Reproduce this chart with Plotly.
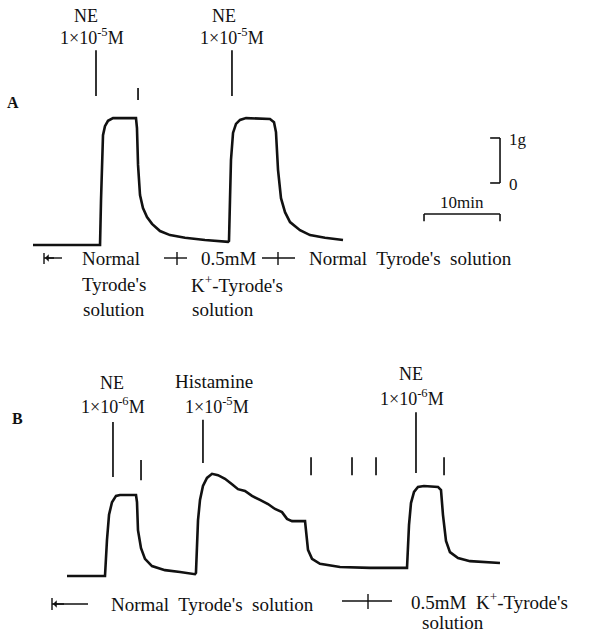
import plotly.graph_objects as go

# ---------------- data (time in min, tension in g above resting baseline) -------------
a_time = [0, 8.82, 8.95, 9.08, 9.21, 9.47, 9.87, 10.53, 13.55, 13.68, 13.82, 14.08, 14.47,
          15.0, 15.66, 16.71, 18.03, 20.0, 22.63, 25.66, 25.79, 25.92, 26.05, 26.32, 26.71,
          27.24, 28.03, 31.18, 31.71, 31.97, 32.24, 32.63, 33.16, 33.82, 35.13, 36.45,
          38.42, 40.79]
a_tension = [0, 0, 1.0, 2.11, 2.44, 2.64, 2.76, 2.82, 2.82, 2.6, 1.78, 1.11, 0.82,
             0.62, 0.47, 0.31, 0.22, 0.16, 0.11, 0.07, 0.09, 1.0, 1.89, 2.49, 2.69,
             2.78, 2.82, 2.8, 2.73, 2.51, 1.67, 1.04, 0.73, 0.51, 0.33, 0.22,
             0.16, 0.11]

b_time = [0, 5.0, 5.26, 5.53, 5.92, 6.45, 6.97, 9.08, 9.21, 9.34, 9.74, 10.26, 11.18,
          12.89, 14.87, 16.84, 16.97, 17.24, 17.5, 17.89, 18.42, 19.08, 19.87, 20.79,
          21.71, 22.5, 23.42, 24.34, 25.39, 26.45, 27.37, 28.29, 28.95, 29.61, 31.32,
          31.45, 31.71, 32.24, 33.29, 35.92, 39.87, 44.74, 45.0, 45.26, 45.66, 46.18,
          46.97, 48.82, 49.21, 49.47, 49.87, 50.39, 51.45, 53.03, 56.97]
b_tension = [0, 0, 0.8, 1.36, 1.64, 1.78, 1.8, 1.8, 1.64, 1.02, 0.62, 0.38, 0.22,
             0.13, 0.09, 0.04, 0.07, 1.24, 1.69, 2.0, 2.18, 2.27, 2.24, 2.16,
             2.04, 1.93, 1.89, 1.78, 1.69, 1.6, 1.49, 1.42, 1.27, 1.22, 1.22,
             1.02, 0.58, 0.38, 0.27, 0.2, 0.18, 0.18, 1.13, 1.62, 1.87, 1.98,
             2.0, 1.98, 1.91, 1.36, 0.78, 0.53, 0.4, 0.33, 0.29]

# drug-addition / washout event times (min)
a_ne_times = [8.29, 26.18]
a_wash_times = [13.82]
b_ne_times = [6.05, 45.92]
b_hist_times = [17.89]
b_wash_times = [9.74, 32.11, 37.5, 40.66, 49.61]

# calibration bar
scale_tension_g = 1
scale_time_min = 10

# ---------------- figure ----------------
W, H = 593, 634
FONT = "Liberation Serif"
BLACK = "#111111"


def P(x, y):
    return dict(x=x / W, y=1 - y / H, xref="paper", yref="paper")


fig = go.Figure()
fig.add_trace(go.Scatter(x=a_time, y=a_tension, mode="lines",
                         line=dict(color=BLACK, width=2.6), xaxis="x", yaxis="y",
                         hoverinfo="skip"))
fig.add_trace(go.Scatter(x=b_time, y=b_tension, mode="lines",
                         line=dict(color=BLACK, width=2.6), xaxis="x2", yaxis="y2",
                         hoverinfo="skip"))

shapes = []


def vline(t, y0, y1, xr, yr, w=1.7):
    shapes.append(dict(type="line", x0=t, x1=t, y0=y0, y1=y1, xref=xr, yref=yr,
                       line=dict(color=BLACK, width=w)))


for t in a_ne_times:
    vline(t, 3.31, 4.33, "x", "y")
for t in a_wash_times:
    vline(t, 3.22, 3.49, "x", "y")
vline(b_ne_times[0], 2.2, 3.42, "x2", "y2")
vline(b_ne_times[1], 2.29, 3.64, "x2", "y2")
for t in b_hist_times:
    vline(t, 2.51, 3.47, "x2", "y2")
vline(b_wash_times[0], 2.13, 2.58, "x2", "y2")
for t in b_wash_times[1:]:
    vline(t, 2.24, 2.64, "x2", "y2")

# calibration bars (panel A coordinates)
sx, sy = 61.45, 1.378
shapes += [
    dict(type="line", x0=sx, x1=sx, y0=sy, y1=sy + scale_tension_g, xref="x", yref="y",
         line=dict(color=BLACK, width=1.6)),
    dict(type="line", x0=sx - 1.3, x1=sx, y0=sy, y1=sy, xref="x", yref="y",
         line=dict(color=BLACK, width=1.6)),
    dict(type="line", x0=sx - 1.3, x1=sx, y0=sy + scale_tension_g, y1=sy + scale_tension_g,
         xref="x", yref="y", line=dict(color=BLACK, width=1.6)),
]
hy = 0.689
shapes += [
    dict(type="line", x0=sx - scale_time_min, x1=sx, y0=hy, y1=hy, xref="x", yref="y",
         line=dict(color=BLACK, width=1.6)),
    dict(type="line", x0=sx - scale_time_min, x1=sx - scale_time_min, y0=hy, y1=hy - 0.16,
         xref="x", yref="y", line=dict(color=BLACK, width=1.6)),
    dict(type="line", x0=sx, x1=sx, y0=hy, y1=hy - 0.16, xref="x", yref="y",
         line=dict(color=BLACK, width=1.6)),
]


def pline(x0, y0, x1, y1, w=1.4):
    shapes.append(dict(type="line", x0=x0 / W, x1=x1 / W, y0=1 - y0 / H, y1=1 - y1 / H,
                       xref="paper", yref="paper", line=dict(color=BLACK, width=w)))


# solution change markers (panel A)
pline(44, 253, 44, 264)
pline(44, 258, 62, 258)
pline(164, 258, 187, 258)
pline(177, 252, 177, 265)
pline(262, 258, 295, 258)
pline(278, 252, 278, 265)
# panel B
pline(52, 598, 52, 610)
pline(52, 604, 88, 604)
pline(342, 601, 392, 601)
pline(368, 594, 368, 609)

ann = []


def txt(s, x, y, size=19, xanchor="center", bold=False):
    d = P(x, y)
    d.update(text=("<b>%s</b>" % s) if bold else s, showarrow=False, xanchor=xanchor,
             yanchor="middle", font=dict(family=FONT, size=size, color=BLACK))
    ann.append(d)


def arrowhead(x, y, dx):
    d = P(x, y)
    d.update(text=" ", showarrow=True, ax=dx, ay=0, arrowhead=1, arrowsize=0.9,
             arrowwidth=1.4, arrowcolor=BLACK, font=dict(size=10))
    ann.append(d)


arrowhead(45, 258, 12)
arrowhead(53, 604, 14)

# Panel A texts
txt("NE", 86, 16, 18)
txt("1×10<sup>-5</sup>M", 92, 37, 18)
txt("NE", 224, 16, 18)
txt("1×10<sup>-5</sup>M", 232, 37, 18)
txt("A", 13, 102, 16, bold=True)
txt("Normal", 80, 258, 19, xanchor="left")
txt("Tyrode's", 80, 284, 19, xanchor="left")
txt("solution", 81, 309, 19, xanchor="left")
txt("0.5mM", 199, 258, 19, xanchor="left")
txt("K<sup>+</sup>-Tyrode's", 189, 284, 19, xanchor="left")
txt("solution", 190, 309, 19, xanchor="left")
txt("Normal  Tyrode's  solution", 307, 258, 19, xanchor="left")
txt("1g", 507, 140, 17, xanchor="left")
txt("0", 507, 185, 17, xanchor="left")
txt("10min", 462, 202, 17)

# Panel B texts
txt("B", 17, 418, 16, bold=True)
txt("NE", 112, 383, 18)
txt("1×10<sup>-6</sup>M", 113, 405, 18)
txt("Histamine", 214, 381, 19)
txt("1×10<sup>-5</sup>M", 217, 405, 18)
txt("NE", 411, 374, 18)
txt("1×10<sup>-6</sup>M", 412, 397, 18)
txt("Normal  Tyrode's  solution", 109, 604, 19, xanchor="left")
txt("0.5mM  K<sup>+</sup>-Tyrode's", 409, 601, 19, xanchor="left")
txt("solution", 453, 622, 19)

hidden = dict(visible=False, showgrid=False, zeroline=False, fixedrange=True)
fig.update_layout(
    width=W, height=H, margin=dict(l=0, r=0, t=0, b=0),
    paper_bgcolor="white", plot_bgcolor="white", showlegend=False,
    xaxis=dict(domain=[0, 1], range=[-33 / 7.6, 560 / 7.6], anchor="y", **hidden),
    yaxis=dict(domain=[0.5, 1], range=[-72 / 45, 245 / 45], anchor="x", **hidden),
    xaxis2=dict(domain=[0, 1], range=[-67 / 7.6, 526 / 7.6], anchor="y2", **hidden),
    yaxis2=dict(domain=[0, 0.5], range=[-58 / 45, 259 / 45], anchor="x2", **hidden),
    shapes=shapes, annotations=ann,
)

fig.write_html("out.html", config={"displayModeBar": False},
               post_script="document.body.style.margin='0';document.body.style.overflow='hidden';")
